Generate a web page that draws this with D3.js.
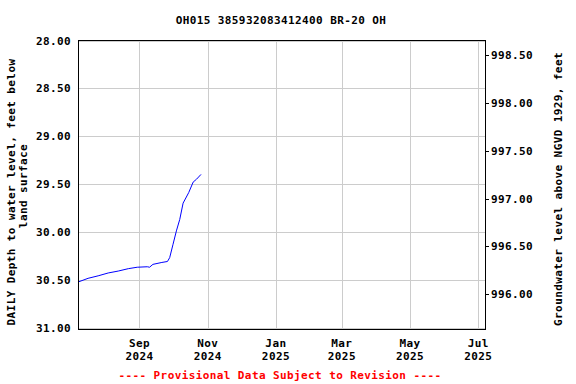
<!DOCTYPE html>
<html>
<head>
<meta charset="utf-8">
<script src="https://cdn.jsdelivr.net/npm/d3@7"></script>
<style>
  html, body { margin: 0; padding: 0; background: #fff; }
  svg text { font-family: "DejaVu Sans Mono", "Liberation Mono", monospace; font-weight: bold; }
</style>
</head>
<body>
<svg id="chart" width="576" height="384"></svg>
<script>
const title = "OH015 385932083412400 BR-20 OH";
const leftLabel1 = "DAILY Depth to water level, feet below";
const leftLabel2 = "land surface";
const rightLabel = "Groundwater level above NGVD 1929, feet";
const footer = "---- Provisional Data Subject to Revision ----";

const dates = ["2024-07-08","2024-07-17","2024-07-26","2024-08-04","2024-08-13","2024-08-22",
  "2024-08-30","2024-09-08","2024-09-10","2024-09-13","2024-09-21","2024-09-26","2024-09-28",
  "2024-10-01","2024-10-04","2024-10-07","2024-10-10","2024-10-15","2024-10-19","2024-10-22","2024-10-26"];
const depths = [30.525,30.486,30.46,30.43,30.41,30.385,30.37,30.365,30.37,30.34,30.32,30.31,30.27,
  30.13,29.99,29.87,29.70,29.59,29.48,29.45,29.40];

const leftTicks = [28.0,28.5,29.0,29.5,30.0,30.5,31.0];
const rightTicks = [996.0,996.5,997.0,997.5,998.0,998.5];
const xTickDates = ["2024-09-01","2024-11-01","2025-01-01","2025-03-01","2025-05-01","2025-07-01"];
const xTickMonths = ["Sep","Nov","Jan","Mar","May","Jul"];
const xTickYears = ["2024","2024","2025","2025","2025","2025"];
const landSurface = 1026.653; // elevation of land surface, feet
const xDomain = ["2024-07-08","2025-07-07"];

const parse = d3.utcParse("%Y-%m-%d");
const svg = d3.select("#chart");
const L = 78, R = 485, T = 40, B = 329;

const x = d3.scaleUtc().domain(xDomain.map(parse)).range([L, R]);
const y = d3.scaleLinear().domain([28, 31]).range([40.5, 327.5]);
const yr = d3.scaleLinear().domain([landSurface - 28, landSurface - 31]).range([40.5, 327.5]);

const fontSize = "11px";
const ls = "0.4px";

// gridlines
const g = svg.append("g").attr("shape-rendering", "crispEdges");
g.selectAll(".hg").data(leftTicks).join("line")
  .attr("x1", L).attr("x2", R)
  .attr("y1", d => Math.round(y(d)) + 0.5).attr("y2", d => Math.round(y(d)) + 0.5)
  .attr("stroke", "#cccccc");
g.selectAll(".vg").data(xTickDates).join("line")
  .attr("x1", d => Math.round(x(parse(d))) + 0.5).attr("x2", d => Math.round(x(parse(d))) + 0.5)
  .attr("y1", T).attr("y2", B)
  .attr("stroke", "#cccccc");

// data line
const pts = dates.map((d, i) => [parse(d), depths[i]]);
svg.append("path")
  .datum(pts)
  .attr("fill", "none")
  .attr("stroke", "#0000ff")
  .attr("stroke-width", 1)
  .attr("d", d3.line().x(d => x(d[0])).y(d => y(d[1])));

// frame
svg.append("rect")
  .attr("x", L + 0.5).attr("y", T + 0.5)
  .attr("width", R - L).attr("height", B - T)
  .attr("fill", "none").attr("stroke", "#000").attr("shape-rendering", "crispEdges");

// left axis labels
svg.append("g").selectAll("text").data(leftTicks).join("text")
  .attr("x", 71).attr("y", d => y(d) + 4)
  .attr("text-anchor", "end")
  .attr("font-size", fontSize).attr("letter-spacing", ls)
  .text(d => d3.format(".2f")(d));

// right axis ticks and labels
const ra = svg.append("g");
ra.selectAll("line").data(rightTicks).join("line")
  .attr("x1", R).attr("x2", R + 4)
  .attr("y1", d => Math.round(yr(d)) + 0.5).attr("y2", d => Math.round(yr(d)) + 0.5)
  .attr("stroke", "#000").attr("shape-rendering", "crispEdges");
ra.selectAll("text").data(rightTicks).join("text")
  .attr("x", 491).attr("y", d => yr(d) + 4)
  .attr("font-size", fontSize).attr("letter-spacing", ls)
  .text(d => d3.format(".2f")(d));

// x axis labels
const xa = svg.append("g");
xa.selectAll(".m").data(xTickDates).join("text")
  .attr("x", d => x(parse(d))).attr("y", 347)
  .attr("text-anchor", "middle")
  .attr("font-size", fontSize).attr("letter-spacing", ls)
  .text((d, i) => xTickMonths[i]);
xa.selectAll(".yv").data(xTickDates).join("text")
  .attr("x", d => x(parse(d))).attr("y", 360)
  .attr("text-anchor", "middle")
  .attr("font-size", fontSize).attr("letter-spacing", ls)
  .text((d, i) => xTickYears[i]);

// title
svg.append("text").attr("x", 281).attr("y", 23.5)
  .attr("text-anchor", "middle").attr("font-size", fontSize).attr("letter-spacing", ls)
  .text(title);

// axis titles
svg.append("text")
  .attr("transform", "translate(15,192) rotate(-90)")
  .attr("text-anchor", "middle").attr("font-size", fontSize).attr("letter-spacing", ls)
  .text(leftLabel1);
svg.append("text")
  .attr("transform", "translate(27,186) rotate(-90)")
  .attr("text-anchor", "middle").attr("font-size", fontSize).attr("letter-spacing", ls)
  .text(leftLabel2);
svg.append("text")
  .attr("transform", "translate(562,189) rotate(-90)")
  .attr("text-anchor", "middle").attr("font-size", fontSize).attr("letter-spacing", ls)
  .text(rightLabel);

// footer
svg.append("text").attr("x", 280).attr("y", 378.5)
  .attr("text-anchor", "middle").attr("font-size", fontSize).attr("letter-spacing", ls)
  .attr("fill", "#ff0000")
  .text(footer);
</script>
</body>
</html>
